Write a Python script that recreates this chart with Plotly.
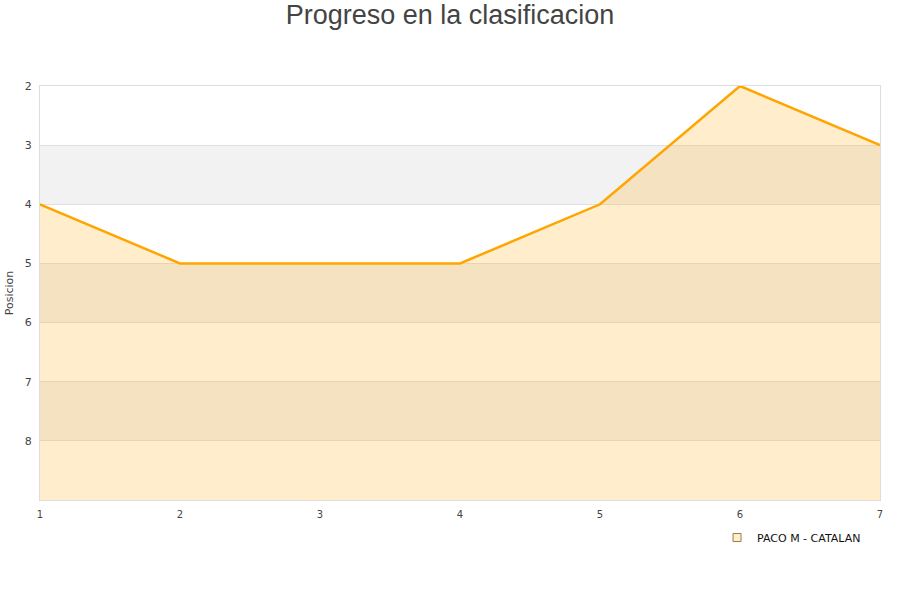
import plotly.graph_objects as go

jornadas = [1, 2, 3, 4, 5, 6, 7]
posicion = [4, 5, 5, 5, 4, 2, 3]
serie = "PACO M - CATALAN"
y_min, y_max = 2, 9
bands = [(3, 4), (5, 6), (7, 8)]

fig = go.Figure()
fig.add_trace(go.Scatter(x=jornadas, y=[y_max] * len(jornadas), mode="lines",
                         line=dict(width=0), showlegend=False, hoverinfo="skip"))
fig.add_trace(go.Scatter(x=jornadas, y=posicion, mode="lines", name=serie,
                         line=dict(color="#FFA500", width=2.5),
                         fill="tonexty", fillcolor="rgba(255,165,0,0.2)",
                         showlegend=False))
# legend entry (square symbol)
fig.add_trace(go.Scatter(x=[None], y=[None], mode="markers", name=serie,
                         marker=dict(symbol="square", size=8, color="#FFEDCC",
                                     line=dict(color="#9C7A45", width=1))))

for a, b in bands:
    fig.add_shape(type="rect", xref="paper", yref="y", x0=0, x1=1, y0=a, y1=b,
                  fillcolor="#F2F2F2", line=dict(width=0), layer="below")

fig.update_layout(
    width=900, height=600,
    paper_bgcolor="white", plot_bgcolor="white",
    margin=dict(l=40, r=20, t=86, b=100),
    title=dict(text="Progreso en la clasificacion", x=0.5, xanchor="center",
               xref="container", yref="container",
               y=0.975, yanchor="middle",
               font=dict(family="Liberation Sans, Arial, sans-serif", size=27,
                         color="#444444")),
    font=dict(family="DejaVu Sans, sans-serif", color="#444444"),
    xaxis=dict(range=[1, 7], tickvals=jornadas, showgrid=False, zeroline=False,
               showline=True, linecolor="#DDDDDD", mirror=True,
               tickfont=dict(size=10), ticks="", ticklabelstandoff=5),
    yaxis=dict(range=[y_max, y_min], tickvals=[2, 3, 4, 5, 6, 7, 8],
               showgrid=True, gridcolor="#E0E0E0", zeroline=False,
               showline=True, linecolor="#DDDDDD", mirror=True,
               tickfont=dict(size=11), ticks="", automargin=False,
               ticklabelstandoff=5,
               title=dict(text="Posicion", font=dict(size=11), standoff=8)),
    legend=dict(x=0.806, xanchor="left", y=-0.0556, yanchor="top",
                orientation="h", font=dict(size=11, color="#111111"),
                bgcolor="rgba(0,0,0,0)"),
)

fig.write_html("out.html", config={"displayModeBar": False},
               post_script="document.body.style.margin='0px';")
